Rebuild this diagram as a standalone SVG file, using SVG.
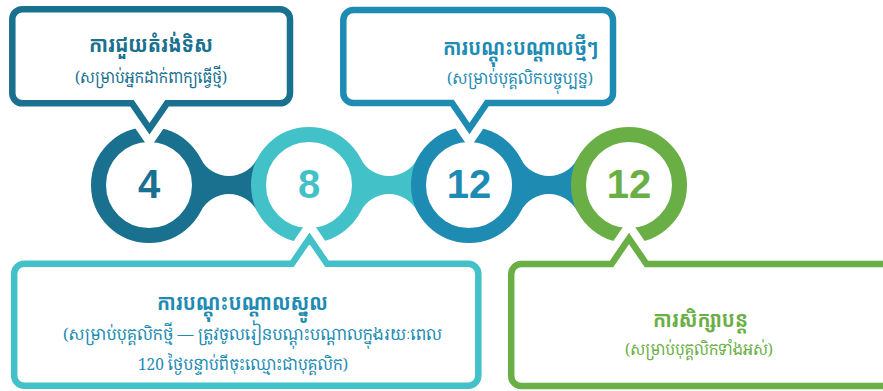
<svg xmlns="http://www.w3.org/2000/svg" width="883" height="391" viewBox="0 0 883 391">
<style>
.box{fill:#fff;stroke-width:6.5;stroke-linejoin:miter;stroke-miterlimit:10}
.halo{fill:none;stroke:#fff;stroke-width:23;stroke-linejoin:miter;stroke-miterlimit:10}
.ring{fill:#fff;stroke-width:15}
.num{font-family:"Liberation Sans",Arial,sans-serif;font-weight:bold;font-size:40px;text-anchor:middle}
.t{font-family:"Noto Sans Khmer","Khmer OS","Noto Sans",sans-serif;font-weight:bold;font-size:22px;text-anchor:middle}
.s{font-family:"Noto Serif Khmer","Khmer OS","Noto Sans Khmer",serif;font-size:16.5px;text-anchor:middle}
.c1{stroke:#19708f}.c2{stroke:#43c1c9}.c3{stroke:#1e8bb3}.c4{stroke:#6aaf46}
.f1{fill:#19708f}.f2{fill:#43c1c9}.f3{fill:#1e8bb3}.f4{fill:#6aaf46}
</style>
<g id="connectors">
<path class="f1" d="M200.7,158.7 A31.8,31.8 0 0 0 257.3,158.7 L285,185 L257.3,211.3 A31.8,31.8 0 0 0 200.7,211.3 L173,185 Z"/>
<path class="f2" d="M360.7,158.7 A31.8,31.8 0 0 0 417.3,158.7 L445,185 L417.3,211.3 A31.8,31.8 0 0 0 360.7,211.3 L333,185 Z"/>
<path class="f3" d="M520.7,158.7 A31.8,31.8 0 0 0 577.3,158.7 L605,185 L577.3,211.3 A31.8,31.8 0 0 0 520.7,211.3 L493,185 Z"/>
</g>
<g id="circle1"><circle class="ring c1" cx="149" cy="185" r="50.5"/><text class="num f1" x="149" y="198">4</text></g>
<g id="circle2"><circle class="ring c2" cx="309" cy="185" r="50.5"/><text class="num f2" x="309" y="198">8</text></g>
<g id="circle3"><circle class="ring c3" cx="469" cy="185" r="50.5"/><text class="num f3" x="469" y="198">12</text></g>
<g id="circle4"><circle class="ring c4" cx="629" cy="185" r="50.5"/><text class="num f4" x="629" y="198">12</text></g>
<g id="halos">
<path class="halo" d="M132,103.3 L149.5,128.8 L167,103.3"/>
<path class="halo" d="M452,103 L469.5,128.5 L487,103"/>
<path class="halo" d="M292,263.8 L309.5,238.3 L327,263.8"/>
<path class="halo" d="M611.5,264 L629,238.5 L646.5,264"/>
</g>
<g id="box1">
<path class="box c1" d="M22.3,9.2 H280 A10,10 0 0 1 290,19.2 V93.3 A10,10 0 0 1 280,103.3 H167 L149.5,128.8 L132,103.3 H22.3 A10,10 0 0 1 12.3,93.3 V19.2 A10,10 0 0 1 22.3,9.2 Z"/>
<text class="t f1" x="151" y="52" textLength="124" lengthAdjust="spacingAndGlyphs">ការជួយតំរង់ទិស</text>
<text class="s f1" x="151" y="83" textLength="152" lengthAdjust="spacingAndGlyphs">(សម្រាប់អ្នកដាក់ពាក្យធ្វើថ្មី)</text>
</g>
<g id="box2">
<path class="box c3" d="M353.3,10 H603 A10,10 0 0 1 613,20 V93 A10,10 0 0 1 603,103 H487 L469.5,128.5 L452,103 H353.3 A10,10 0 0 1 343.3,93 V20 A10,10 0 0 1 353.3,10 Z"/>
<text class="t f3" x="520.5" y="55" textLength="155" lengthAdjust="spacingAndGlyphs">ការបណ្តុះបណ្តាលថ្មីៗ</text>
<text class="s f3" x="520" y="84" textLength="146" lengthAdjust="spacingAndGlyphs">(សម្រាប់បុគ្គលិកបច្ចុប្បន្ន)</text>
</g>
<g id="box3">
<path class="box c2" d="M24.2,263.8 H292 L309.5,238.3 L327,263.8 H468.3 A10,10 0 0 1 478.3,273.8 V375.7 A10,10 0 0 1 468.3,385.7 H24.2 A10,10 0 0 1 14.2,375.7 V273.8 A10,10 0 0 1 24.2,263.8 Z"/>
<text class="t f3" x="242.5" y="310" textLength="171" lengthAdjust="spacingAndGlyphs">ការបណ្តុះបណ្តាលស្នូល</text>
<text class="s f3" x="252.5" y="340" textLength="379" lengthAdjust="spacingAndGlyphs">(សម្រាប់បុគ្គលិកថ្មី — ត្រូវចូលរៀនបណ្តុះបណ្តាលក្នុងរយៈពេល</text>
<text class="s f3" x="243" y="370" textLength="210" lengthAdjust="spacingAndGlyphs">120 ថ្ងៃបន្ទាប់ពីចុះឈ្មោះជាបុគ្គលិក)</text>
</g>
<g id="box4">
<path class="box c4" d="M521.2,264 H611.5 L629,238.5 L646.5,264 H900 V386 H521.2 A10,10 0 0 1 511.2,376 V274 A10,10 0 0 1 521.2,264 Z"/>
<text class="t f4" x="700.5" y="327" textLength="95" lengthAdjust="spacingAndGlyphs">ការសិក្សាបន្ត</text>
<text class="s f4" x="699" y="355" textLength="148" lengthAdjust="spacingAndGlyphs">(សម្រាប់បុគ្គលិកទាំងអស់)</text>
</g>
</svg>
